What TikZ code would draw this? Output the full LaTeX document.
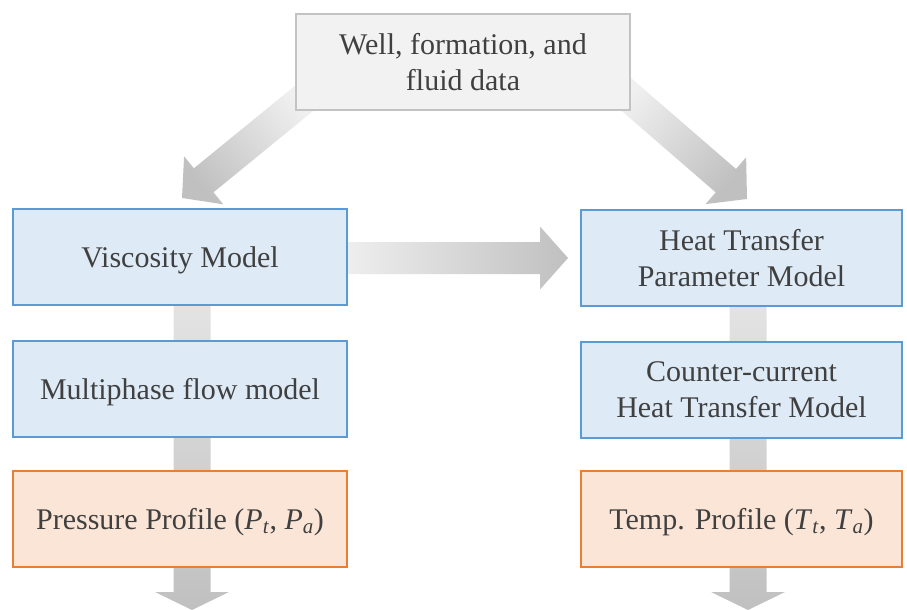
\documentclass[tikz,border=0pt]{standalone}
\usepackage{fontspec}
\setmainfont{Liberation Serif}
\usetikzlibrary{calc, backgrounds}
\definecolor{BoxBlue}{RGB}{222, 234, 246}
\definecolor{EdgeBlue}{RGB}{91, 155, 213}
\definecolor{BoxPeach}{RGB}{251, 229, 214}
\definecolor{EdgeOrange}{RGB}{237, 125, 49}
\definecolor{BoxGray}{RGB}{242, 242, 242}
\definecolor{EdgeGray}{RGB}{195, 195, 195}
\definecolor{Ink}{RGB}{64, 64, 64}
\definecolor{ArrLight}{RGB}{240, 240, 240}
\definecolor{ArrMid}{RGB}{230, 230, 230}
\definecolor{ArrDark}{RGB}{192, 192, 192}

\tikzset{
  box/.style={line width=2pt, minimum height=96pt, inner sep=0pt, align=center,
    text=Ink, font=\fontsize{30}{36}\selectfont},
  oneline/.style={text height=22pt, text depth=1pt},
  source/.style={box, draw=EdgeGray, fill=BoxGray, minimum width=334pt},
  stage/.style={box, draw=EdgeBlue, fill=BoxBlue},
  result/.style={box, oneline, draw=EdgeOrange, fill=BoxPeach},
  garrow/.style={shading=axis, top color=ArrDark, bottom color=#1, shading angle=\shadeang},
}

% wide shaded arrow: [options]{start}{tip}{half shaft}{half head}{head length}
\newcommand{\blockarrow}[6][]{%
  \coordinate (ba-s) at (#2);
  \coordinate (ba-t) at (#3);
  \coordinate (ba-b) at ($(ba-t)!#6!(ba-s)$);
  \shade[#1] ($(ba-s)!#4!90:(ba-t)$) -- ($(ba-b)!#4!-90:(ba-s)$)
    -- ($(ba-b)!#5!-90:(ba-s)$) -- (ba-t) -- ($(ba-b)!#5!90:(ba-s)$)
    -- ($(ba-b)!#4!90:(ba-s)$) -- ($(ba-s)!#4!-90:(ba-t)$) -- cycle;
}
\newcommand{\shadeang}{0}

\begin{document}
\begin{tikzpicture}[x=1pt, y=-1pt]
\useasboundingbox (0,0) rectangle (907,610);

% Input data
\node[source] (data) at (463,62) {Well, formation, and\\fluid data};

% Hydraulic column
\node[stage, oneline, minimum width=334pt] (visc) at (180,257) {Viscosity Model};
\node[stage, oneline, minimum width=334pt] (flow) at (180,389) {Multiphase flow model};
\node[result, minimum width=334pt] (press) at (180,519)
  {Pressure Profile (\textit{P}\textsubscript{\textit{t}}, \textit{P}\textsubscript{\textit{a}})};

% Thermal column
\node[stage, minimum width=321pt] (htp) at (741.5,258) {Heat Transfer\\Parameter Model};
\node[stage, minimum width=321pt] (cchm) at (741.5,390) {Counter-current\\Heat Transfer Model};
\node[result, minimum width=321pt] (temp) at (741.5,519)
  {Temp. Profile (\textit{T}\textsubscript{\textit{t}}, \textit{T}\textsubscript{\textit{a}})};

% Flow arrows behind the boxes
\begin{scope}[on background layer]
  \renewcommand{\shadeang}{129.5}
  \blockarrow[garrow=ArrLight]{$(data.south west)+(12,-15)$}{$(visc.north)+(2,-10)$}{15.5pt}{31pt}{28pt}
  \renewcommand{\shadeang}{-130.5}
  \blockarrow[garrow=ArrLight]{$(data.south east)+(-11,-22)$}{$(htp.north)+(5.5,-10)$}{15.5pt}{31pt}{28pt}
  \renewcommand{\shadeang}{-90}
  \blockarrow[garrow=ArrLight]{$(visc.east)+(-10,1)$}{$(htp.west)+(-12,0)$}{16pt}{31.5pt}{28pt}
  \renewcommand{\shadeang}{180}
  \blockarrow[garrow=ArrMid]{$(visc.center)+(12,23)$}{$(press.south)+(12,42)$}{18.5pt}{37pt}{18pt}
  \blockarrow[garrow=ArrMid]{$(htp.center)+(6.5,22)$}{$(temp.south)+(6.5,42)$}{18.5pt}{37pt}{18pt}
\end{scope}

\end{tikzpicture}
\end{document}
